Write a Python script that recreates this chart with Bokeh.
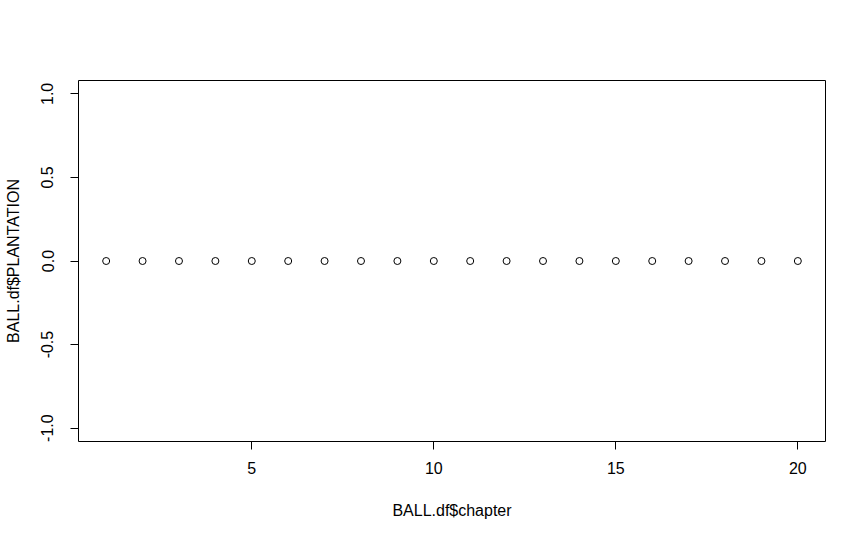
from bokeh.plotting import figure
from bokeh.models import Range1d, FixedTicker, ColumnDataSource
from bokeh.embed import file_html
from bokeh.resources import INLINE

chapter = list(range(1, 21))
plantation = [0] * 20
x_ticks = [5, 10, 15, 20]
y_ticks = [-1.0, -0.5, 0.0, 0.5, 1.0]
y_tick_labels = {-1.0: "-1.0", -0.5: "-0.5", 0.0: "0.0", 0.5: "0.5", 1.0: "1.0"}

FONT = "Liberation Sans"

p = figure(width=849, height=523, output_backend="svg", toolbar_location=None,
           x_range=Range1d(0.24, 20.76), y_range=Range1d(-1.08, 1.08),
           min_border_left=78, min_border_right=24, min_border_top=80, min_border_bottom=82)
p.xgrid.visible = False
p.ygrid.visible = False
p.outline_line_color = "black"
p.outline_line_width = 1
p.outline_line_alpha = 1.0
p.background_fill_color = "white"
p.border_fill_color = "white"

src = ColumnDataSource(dict(x=chapter, y=plantation))
p.scatter("x", "y", source=src, size=7, marker="circle", fill_color=None,
          line_color="black", line_width=1)

xa = p.xaxis[0]
xa.ticker = FixedTicker(ticks=x_ticks)
xa.axis_line_color = None
xa.major_tick_in = 0
xa.major_tick_out = 8
xa.minor_tick_line_color = None
xa.major_tick_line_color = "black"
xa.major_label_text_font = FONT
xa.major_label_text_font_size = "16px"
xa.major_label_text_color = "black"
xa.major_label_standoff = 12
xa.axis_label = "BALL.df$chapter"
xa.axis_label_text_font = FONT
xa.axis_label_text_font_size = "16px"
xa.axis_label_text_font_style = "normal"
xa.axis_label_text_color = "black"
xa.axis_label_standoff = 25

ya = p.yaxis[0]
ya.ticker = FixedTicker(ticks=y_ticks)
ya.major_label_overrides = y_tick_labels
ya.axis_line_color = None
ya.major_tick_in = 0
ya.major_tick_out = 8
ya.minor_tick_line_color = None
ya.major_tick_line_color = "black"
ya.major_label_orientation = "vertical"
ya.major_label_text_font = FONT
ya.major_label_text_font_size = "16px"
ya.major_label_text_color = "black"
ya.major_label_standoff = 17
ya.axis_label = "BALL.df$PLANTATION"
ya.axis_label_text_font = FONT
ya.axis_label_text_font_size = "16px"
ya.axis_label_text_font_style = "normal"
ya.axis_label_text_color = "black"
ya.axis_label_standoff = 17

open("out.html", "w").write(file_html(p, INLINE))
